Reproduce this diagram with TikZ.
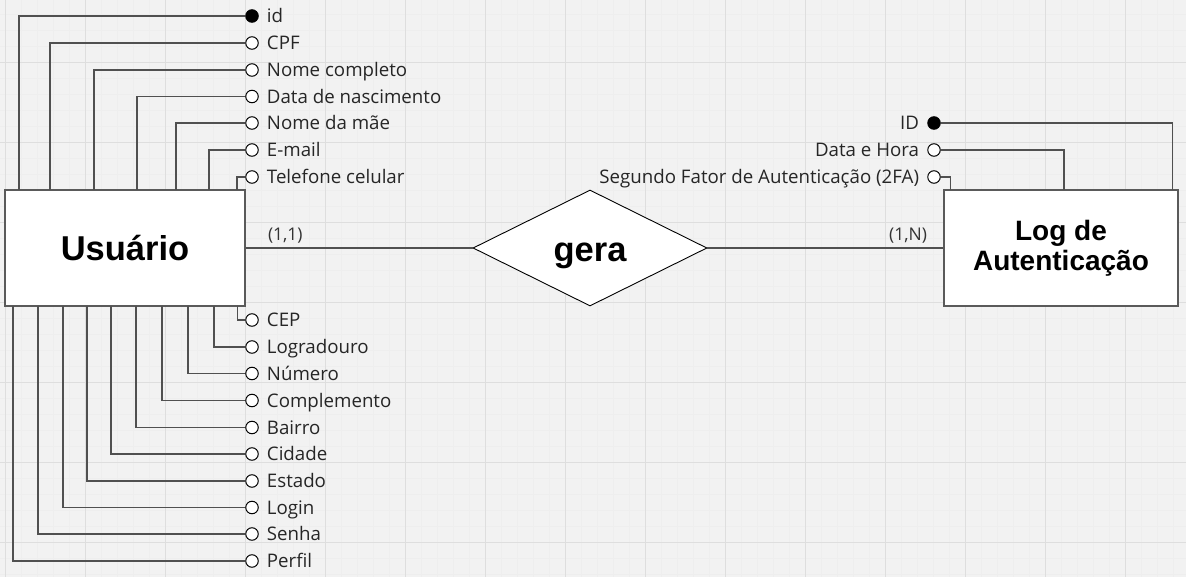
\documentclass[tikz,border=0pt]{standalone}
\usepackage{fontspec}
\setmainfont{Open Sans}
\newfontfamily\headfont{Liberation Sans}
\usetikzlibrary{shapes.geometric,positioning,calc}

\definecolor{bgcol}{HTML}{F2F2F2}
\definecolor{minorcol}{HTML}{EEEEEE}
\definecolor{majorcol}{HTML}{DEDEDE}
\definecolor{linecol}{HTML}{505050}
\definecolor{boxcol}{HTML}{5A5A5A}

\tikzset{
  entity/.style={draw=boxcol, line width=1.6pt, fill=white, inner sep=0pt,
    align=center, font=\headfont\bfseries},
  relation/.style={draw=black, line width=0.9pt, fill=white, shape=diamond,
    inner sep=0pt, minimum width=234pt, minimum height=116pt,
    text height=28pt, text depth=0pt,
    font=\headfont\bfseries\fontsize{34.5}{40}\selectfont},
  attr/.style={circle, draw=black, line width=1pt, fill=white,
    minimum size=12.5pt, inner sep=0pt},
  keyattr/.style={attr, fill=black},
  attrtext/.style={font=\fontsize{18.7}{22}\selectfont, text=black!85,
    inner sep=0pt, text height=16.6pt, text depth=3pt},
  conn/.style={draw=linecol, line width=1.6pt},
  card/.style={font=\fontsize{17.5}{20}\selectfont, text=black!80, inner sep=0pt}
}

\begin{document}
\begin{tikzpicture}[x=1pt,y=-1pt]
  \useasboundingbox (0,0) rectangle (1186,577);

  % Background and grid
  \fill[bgcol] (0,0) rectangle (1186,577);
  \foreach \gx in {5,21,...,1186} \draw[minorcol, line width=0.5pt] (\gx,0) -- (\gx,577);
  \foreach \gy in {14,30,...,577} \draw[minorcol, line width=0.5pt] (0,\gy) -- (1186,\gy);
  \foreach \gx in {5,85,...,1186} \draw[majorcol, line width=0.8pt] (\gx,0) -- (\gx,577);
  \foreach \gy in {62,142,...,577} \draw[majorcol, line width=0.8pt] (0,\gy) -- (1186,\gy);

  % Entities and relationship
  \node[entity, minimum width=240pt, minimum height=116pt,
        font=\headfont\bfseries\fontsize{34.5}{40}\selectfont] (usr) at (125,248) {Usuário};
  \node[relation] (gera) at (590,248) {gera};
  \node[entity, minimum width=234pt, minimum height=116pt,
        font=\headfont\bfseries\fontsize{28}{30}\selectfont] (log) at (1061,248) {Log de\\Autenticação};

  \draw[conn] (usr.east) -- (gera.west);
  \draw[conn] (gera.east) -- (log.west);
  \node[card, anchor=south west] (c11) at ($(usr.east)+(22,-5)$) {(1,1)};
  \node[card, anchor=south east] (c1n) at ($(log.west)+(-16,-5)$) {(1,N)};

  % Attributes above Usuario
  \foreach \nm/\vx/\vy/\txt in {cpf/50/43/CPF, nome/94/70/Nome completo,
      nasc/137/96.5/Data de nascimento, mae/176/123/Nome da mãe,
      email/209/150/E-mail, fone/237/177/Telefone celular}{
    \node[attr] (\nm) at (252,\vy) {};
    \node[attrtext, right=8pt of \nm] (\nm-txt) {\txt};
    \coordinate (\nm-foot) at (\vx,190);
    \draw[conn] (\nm-foot) |- (\nm.west);
  }
  \node[keyattr] (id) at (252,16) {};
  \node[attrtext, right=8pt of id] (id-txt) {id};
  \coordinate (id-foot) at (19,190);
  \draw[conn] (id-foot) |- (id.west);

  % Attributes below Usuario
  \foreach \nm/\vx/\vy/\txt in {cep/237.5/320/CEP, logr/214/347/Logradouro,
      num/188/373.5/Número, compl/162/400.5/Complemento, bairro/136/427.5/Bairro,
      cidade/111/454/Cidade, estado/87/481/Estado, login/63/507.5/Login,
      senha/38/534/Senha, perfil/13/561/Perfil}{
    \node[attr] (\nm) at (252,\vy) {};
    \node[attrtext, right=8pt of \nm] (\nm-txt) {\txt};
    \coordinate (\nm-foot) at (\vx,306);
    \draw[conn] (\nm-foot) |- (\nm.west);
  }

  % Attributes of Log de Autenticacao
  \node[keyattr] (lid) at (934,123) {};
  \node[attrtext, left=8pt of lid] (lid-txt) {ID};
  \coordinate (lid-foot) at (1172.5,190);
  \draw[conn] (lid-foot) |- (lid.east);

  \foreach \nm/\vx/\vy/\txt in {data/1064/150/Data e Hora,
      fator/950.5/177/Segundo Fator de Autenticação (2FA)}{
    \node[attr] (\nm) at (934,\vy) {};
    \node[attrtext, left=8pt of \nm] (\nm-txt) {\txt};
    \coordinate (\nm-foot) at (\vx,190);
    \draw[conn] (\nm-foot) |- (\nm.east);
  }
\end{tikzpicture}
\end{document}
